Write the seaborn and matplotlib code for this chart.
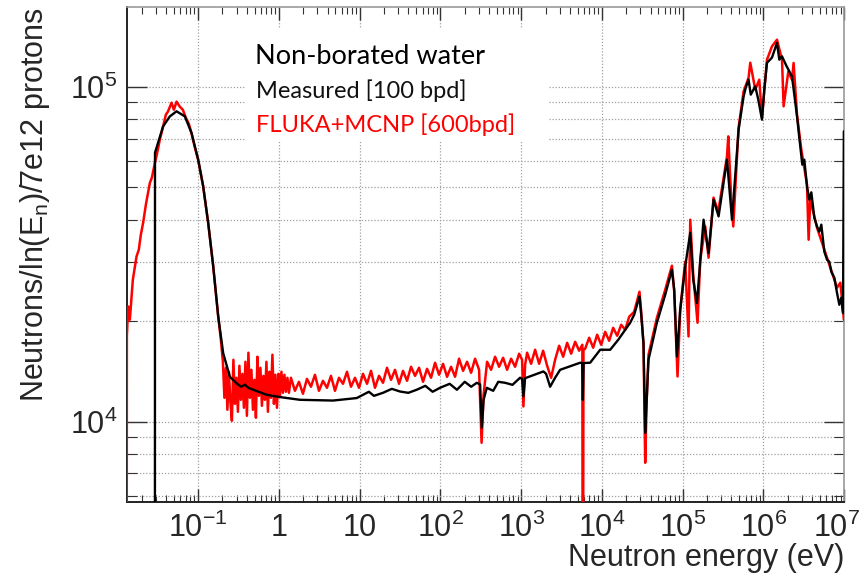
import matplotlib
matplotlib.use("Agg")
import matplotlib.pyplot as plt
import matplotlib.ticker as mticker
import matplotlib.transforms as mtransforms
from matplotlib.patches import Rectangle
import seaborn as sns
import pandas as pd

# ---------------- data ----------------
# FLUKA+MCNP simulation (red)
sim_energy = [
    0.0130, 0.01309, 0.01358, 0.01425, 0.01552, 0.01725, 0.0184, 0.0195, 0.0208, 0.0225,
    0.0252, 0.0267, 0.0291, 0.0317, 0.0335, 0.0368, 0.0398, 0.0422, 0.0468, 0.0500,
    0.0540, 0.0593, 0.0646, 0.0704, 0.0767, 0.0836, 0.0910, 0.100, 0.1153, 0.133,
    0.1535, 0.177, 0.191,
    0.2023, 0.2112, 0.2204, 0.2301, 0.2401, 0.2506, 0.2616, 0.2730, 0.2850, 0.2974,
    0.3104, 0.3240, 0.3382, 0.3529, 0.3684, 0.3845, 0.4013, 0.4188, 0.4372, 0.4563,
    0.4762, 0.4971, 0.5188, 0.5415, 0.5651, 0.5898, 0.6156, 0.6425, 0.6706, 0.6999,
    0.7304, 0.7624, 0.7957, 0.8304, 0.8670, 0.9049, 0.9445, 0.9858, 1.029, 1.074,
    1.121, 1.170, 1.221, 1.274, 1.330,
    1.408, 1.578, 1.769, 1.983, 2.223, 2.492, 2.793, 3.131, 3.509, 3.934,
    4.409, 4.942, 5.540, 6.210, 6.961, 7.802, 8.745, 9.803, 10.99, 12.32,
    13.81, 15.47, 17.35, 19.44, 21.79, 24.43, 27.38, 30.69, 34.40, 38.56,
    43.22, 48.45, 54.31, 60.87, 68.23, 76.48, 85.73, 96.10, 107.7, 120.7,
    135.3, 151.7, 170.0, 190.6, 213.6, 239.5, 268.4, 300.8, 323.1, 342.1,
    378.0, 423.6, 474.8, 532.2, 596.6, 668.7, 749.6, 840.2, 941.8, 1026,
    1065, 1118, 1183, 1326, 1487, 1667, 1868, 2094, 2347, 2631,
    2949, 3306, 3706, 4154, 4656, 5219, 5716, 5799, 5899, 6191,
    6940, 7779, 8720, 9774, 10960, 12280, 13770, 15430, 17300, 19390,
    21730, 25060, 29150, 30600, 32680, 34300, 35810, 37700, 47890, 60700,
    73480, 78480, 86240, 93110, 107400, 118000, 123900, 134900, 152600, 164800,
    190000, 208800, 240800, 275400, 353000, 366400, 399000, 422500, 491400, 566800,
    653700, 686100, 791400, 887100, 958100, 1105000, 1274000, 1470000, 1696000, 1775000,
    2029000, 2255000, 2360000, 2601000, 2941000, 3459000, 3622000, 3801000, 4603000, 6123000,
    8143000, 8948000, 9663000, 9885000,
]
sim_counts = [
    1000, 17950, 22060, 20130, 26500, 31120, 32600, 36140, 39170, 44400,
    51560, 53500, 59150, 64860, 69450, 76100, 82480, 84200, 89550, 85300,
    90200, 87100, 85300, 80700, 77450, 71780, 65740, 60500, 50400, 39200,
    29100, 20600, 17540,
    15080, 11770, 14470, 10840, 14080, 11450, 10050, 15290, 11290, 13510,
    10690, 14670, 11610, 13880, 10990, 15080, 10400, 16050, 11770, 14270,
    10840, 13320, 10260, 15610, 11930, 14470, 11140, 13690, 11610, 15080,
    10690, 14080, 11770, 15830, 11290, 13790, 10990, 13880, 11930, 14080,
    12180, 13790, 12270, 13510, 12180,
    13510, 12350, 13140, 12100, 13410, 12700, 13790, 12350, 13230, 12610,
    13690, 12350, 13510, 12960, 14080, 12700, 13510, 12610, 13880, 12960,
    14170, 12610, 13690, 13050, 14470, 13320, 14270, 12960, 14170, 13230,
    14570, 13690, 14470, 13140, 14370, 13510, 14980, 13790, 14870, 13600,
    14570, 13600, 15400, 14170, 15080, 13980, 15400, 14270, 8640, 12020,
    15080, 14270, 15610, 14570, 15500, 14270, 15400, 14570, 15940, 15290,
    11090, 14770, 16050, 14870, 16380, 14870, 16270, 14670, 13510, 15290,
    16840, 15610, 17180, 15940, 17300, 16270, 16950, 1000, 16380, 16490,
    17790, 16610, 18160, 16950, 18530, 17420, 19050, 18030, 19450, 18790,
    20550, 21270, 24410, 21270, 16960, 7530, 11610, 15830, 20410, 24750,
    29190, 24410, 13630, 21570, 30000, 17950, 40060, 27440, 19720, 30420,
    38240, 30840, 46610, 42320, 61790, 71040, 45960, 38240, 75420, 96630,
    106400, 117900, 97970, 104900, 80800, 120400, 131900, 138100, 120400, 87330,
    110900, 104900, 117700, 82480, 64830, 50950, 34900, 45960, 37900, 30840,
    25090, 25970, 21570, 20130,
]

# Measured (black)
meas_energy = [
    0.0291, 0.0292, 0.0368, 0.0446, 0.0540, 0.0684, 0.0828, 0.100, 0.1153, 0.133,
    0.1535, 0.177, 0.204, 0.247, 0.299, 0.340, 0.379, 0.420, 0.481, 0.705,
    1.03, 1.82, 4.67, 9.19, 13.0, 15.0, 19.4, 25.0, 31.6, 40.0,
    50.8, 65.0, 80.0, 98.9, 130, 160, 200, 240, 282, 310,
    325, 342, 375, 450, 520, 631, 780, 968, 1026, 1064,
    1117, 1884, 2033, 2280, 2630, 3033, 5370, 5690, 5800, 5930,
    7140, 9510, 12650, 15890, 22350, 25050, 29170, 30620, 32680, 34280,
    35800, 37670, 47860, 60670, 73460, 78460, 84720, 93100, 107400, 123900,
    135000, 149900, 181100, 208900, 241000, 278000, 353200, 407400, 492100, 567500,
    603500, 653800, 696000, 791000, 862300, 957800, 1023000, 1104000, 1274000, 1469000,
    1570000, 1694000, 1917000, 2254000, 2408000, 2601000, 2777000, 3026000, 3203000, 3459000,
    3694000, 3912000, 4262000, 4603000, 4913000, 5202000, 5668000, 6124000, 6537000, 6920000,
    7540000, 8147000, 8696000, 9208000, 9663000, 9890000,
]
meas_counts = [
    1000, 63500, 76100, 81500, 84400, 81500, 72700, 60500, 50400, 39200,
    29100, 20600, 16000, 13600, 13000, 12700, 12880, 12600, 12440, 12020,
    11830, 11610, 11550, 11750, 12270, 11930, 12180, 12520, 12290, 12180,
    12440, 12780, 12270, 12610, 12960, 12440, 13140, 12700, 13050, 12900,
    9580, 11610, 12610, 12350, 13140, 13050, 12870, 13510, 13400, 11880,
    13470, 14110, 13880, 12700, 13510, 14270, 14980, 14950, 11610, 14950,
    14980, 16380, 16380, 17540, 19720, 20840, 23630, 20840, 17190, 9250,
    11610, 15290, 19720, 23900, 28390, 24740, 15640, 21570, 29050, 36630,
    26500, 22590, 40060, 31850, 45960, 40980, 60520, 40060, 74380, 93550,
    99310, 104900, 94650, 100200, 91460, 79680, 97970, 117700, 122100, 135100,
    120400, 123200, 115540, 107300, 94650, 81530, 70410, 58480, 60520, 50360,
    45960, 48340, 40620, 38240, 36890, 38710, 32150, 30420, 30000, 28020,
    26880, 24190, 22320, 23420, 21080, 73530,
]

x_ticks = [0.1, 1, 10, 100, 1e3, 1e4, 1e5, 1e6, 1e7]
x_tick_labels = [r"$\mathregular{10^{-1}}$", "1", "10", r"$\mathregular{10^{2}}$",
                 r"$\mathregular{10^{3}}$", r"$\mathregular{10^{4}}$", r"$\mathregular{10^{5}}$",
                 r"$\mathregular{10^{6}}$", r"$\mathregular{10^{7}}$"]
y_ticks = [1e4, 1e5]
y_tick_labels = [r"$\mathregular{10^{4}}$", r"$\mathregular{10^{5}}$"]

legend_title = "Non-borated water"
measured_label = "Measured [100 bpd]"
sim_label = "FLUKA+MCNP [600bpd]"

assert len(sim_energy) == len(sim_counts)
assert len(meas_energy) == len(meas_counts)

# ---------------- style ----------------
sns.set_style("white")
plt.rcParams["font.family"] = ["Liberation Sans", "DejaVu Sans"]
plt.rcParams["mathtext.fontset"] = "custom"
plt.rcParams["mathtext.rm"] = "Liberation Sans"

fig = plt.figure(figsize=(8.65, 5.77), dpi=100)
ax = fig.add_axes([0.147, 0.130, 0.829, 0.858])

sim_df = pd.DataFrame({"energy": sim_energy, "counts": sim_counts})
meas_df = pd.DataFrame({"energy": meas_energy, "counts": meas_counts})

sns.lineplot(data=sim_df, x="energy", y="counts", ax=ax, color="#ff0000",
             linewidth=1.8, estimator=None, sort=False, legend=False, zorder=3)
sns.lineplot(data=meas_df, x="energy", y="counts", ax=ax, color="#000000",
             linewidth=1.7, estimator=None, sort=False, legend=False, zorder=4)

ax.set_xscale("log")
ax.set_yscale("log")
ax.set_xlim(0.0132, 1e7)
ax.set_ylim(5750, 173000)

ax.set_xticks(x_ticks, x_tick_labels)
ax.set_yticks(y_ticks, y_tick_labels)
ax.xaxis.set_minor_locator(mticker.LogLocator(base=10, subs=range(2, 10), numticks=30))
ax.yaxis.set_minor_locator(mticker.LogLocator(base=10, subs=range(2, 10), numticks=30))
ax.xaxis.set_minor_formatter(mticker.NullFormatter())
ax.yaxis.set_minor_formatter(mticker.NullFormatter())

ax.tick_params(axis="x", which="major", direction="in", length=9.5, width=1.0,
               top=True, bottom=True, labelsize=22, pad=8, color="#333333")
ax.tick_params(axis="x", which="minor", direction="in", length=5, width=0.8,
               top=True, bottom=True, color="#333333")
ax.tick_params(axis="y", which="major", direction="in", length=14.5, width=1.0,
               left=True, right=True, labelsize=22, pad=7, color="#333333")
ax.tick_params(axis="y", which="minor", direction="in", length=7.5, width=0.8,
               left=True, right=True, color="#333333")

# keep the last x tick label inside the canvas
last_label = ax.get_xticklabels()[-1]
last_label.set_transform(last_label.get_transform() +
                         mtransforms.ScaledTranslation(-8 / 100, 0, fig.dpi_scale_trans))

ax.grid(True, which="major", axis="x", linestyle=(0, (1, 1.5)), color="#a0a0a0", linewidth=0.9)
ax.grid(True, which="both", axis="y", linestyle=(0, (1, 1.5)), color="#a0a0a0", linewidth=0.9)
ax.set_axisbelow(True)

for side in ["left", "bottom"]:
    ax.spines[side].set_color("#222222")
    ax.spines[side].set_linewidth(1.4)
for side in ["top", "right"]:
    ax.spines[side].set_color("#999999")
    ax.spines[side].set_linewidth(1.2)

ax.set_xlabel("Neutron energy (eV)", fontsize=22, loc="right")
ax.xaxis.set_label_coords(1.0, -0.082)
ax.set_ylabel(r"Neutrons/ln(E$\mathregular{_n}$)/7e12 protons", fontsize=22, loc="top")
ax.yaxis.set_label_coords(-0.105, 1.0)

# white panel behind the legend text
ax.add_patch(Rectangle((0.166, 0.727), 0.421, 0.231, transform=ax.transAxes,
                       facecolor="white", edgecolor="none", zorder=2))
ax.text(0.178, 0.900, legend_title, transform=ax.transAxes, fontsize=19.5,
        family=["Lato", "DejaVu Sans"], color="black", va="center", ha="left", zorder=5)
ax.text(0.180, 0.831, measured_label, transform=ax.transAxes, fontsize=17,
        family=["Lato", "DejaVu Sans"], color="#111111", va="center", ha="left", zorder=5)
ax.text(0.180, 0.763, sim_label, transform=ax.transAxes, fontsize=17,
        family=["Lato", "DejaVu Sans"], color="#ff0000", va="center", ha="left", zorder=5)

fig.savefig("out.png", dpi=100, facecolor="white")
